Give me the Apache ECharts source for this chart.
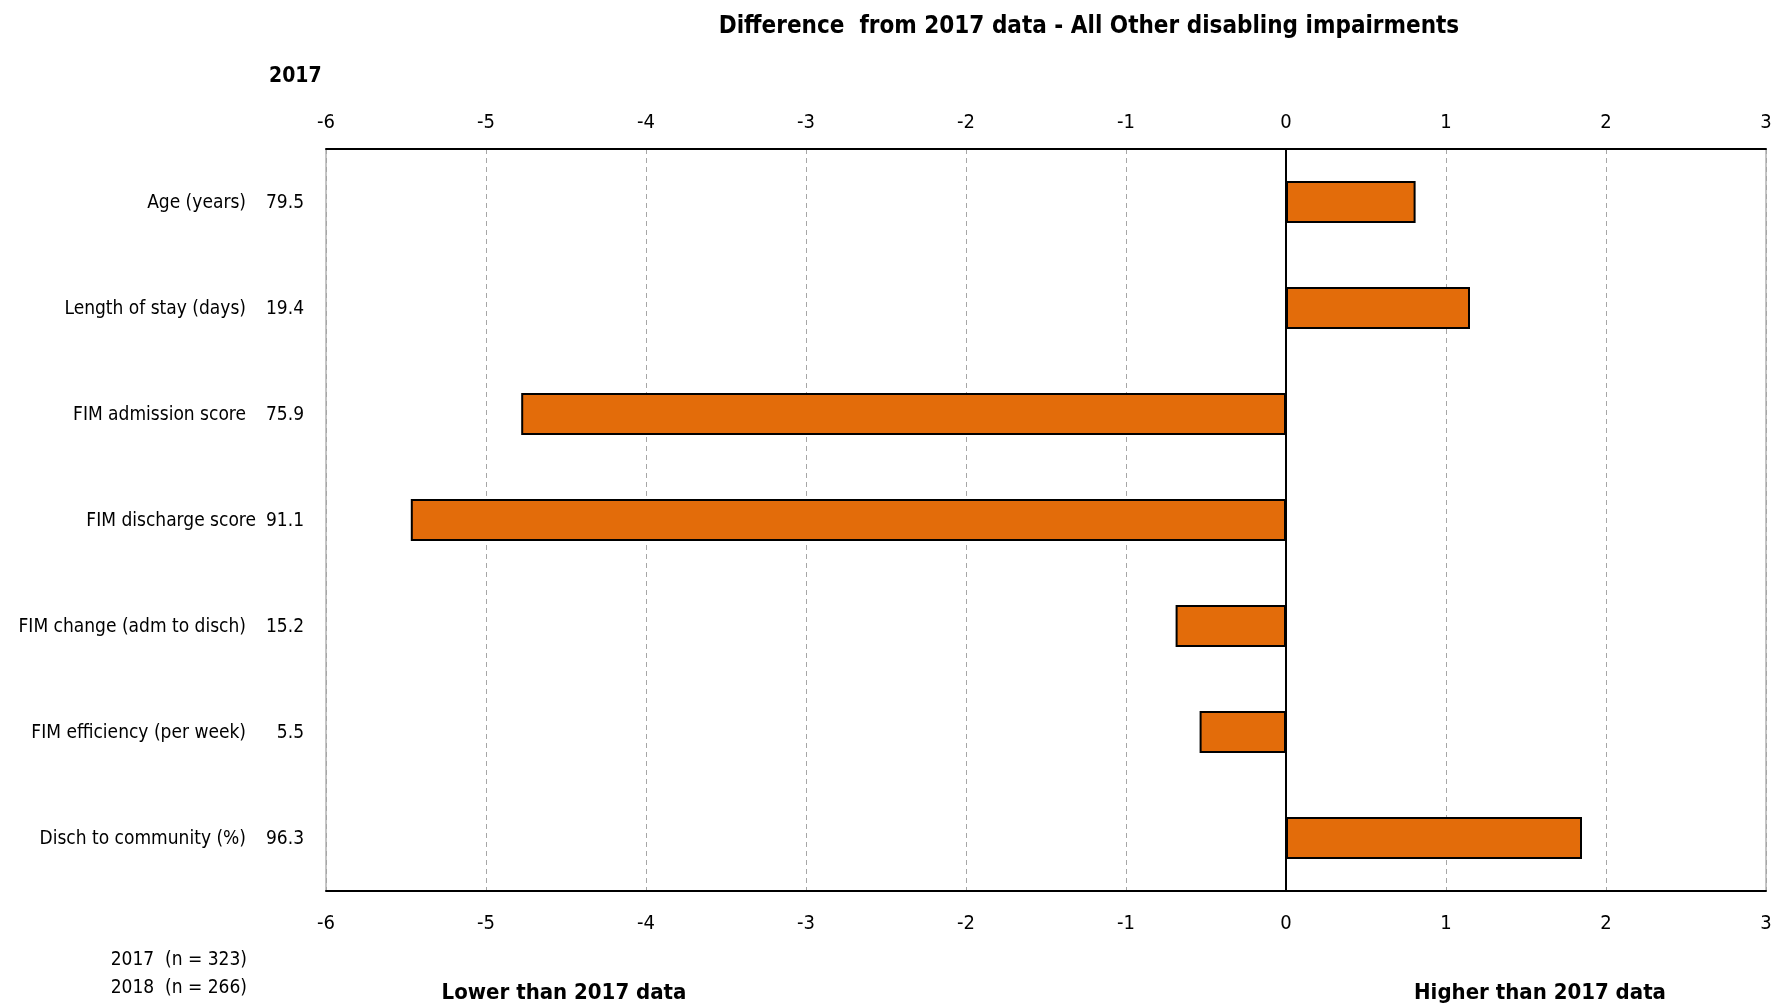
<!DOCTYPE html>
<html>
<head>
<meta charset="utf-8">
<script src="https://cdn.jsdelivr.net/npm/echarts@6/dist/echarts.min.js"></script>
<style>
html,body{margin:0;padding:0;background:#fff;}
#chart{width:1775px;height:1005px;}
</style>
</head>
<body>
<div id="chart"></div>
<script>
const categories = ['Age (years)', 'Length of stay (days)', 'FIM admission score', 'FIM discharge score', 'FIM change (adm to disch)', 'FIM efficiency (per week)', 'Disch to community (%)'];
const values2017 = ['79.5', '19.4', '75.9', '91.1', '15.2', '5.5', '96.3'];
const differences = [0.81, 1.15, -4.78, -5.47, -0.69, -0.54, 1.85];
const xMin = -6, xMax = 3, xStep = 1;
const titleText = 'Difference  from 2017 data - All Other disabling impairments';
const yearLabel = '2017';
const sampleLines = ['2017  (n = 323)', '2018  (n = 266)'];
const lowerText = 'Lower than 2017 data';
const higherText = 'Higher than 2017 data';

const FONT = '"Liberation Sans Narrow", "DejaVu Sans Condensed", "Liberation Sans", sans-serif';
const chart = echarts.init(document.getElementById('chart'), null, {renderer: 'canvas'});

const xAxisBase = {
  type: 'value', min: xMin, max: xMax, interval: xStep,
  axisLine: {show: true, onZero: false, lineStyle: {color: '#000', width: 2}},
  axisTick: {show: false}
};

chart.setOption({
  animation: false,
  backgroundColor: '#fff',
  title: {
    text: titleText, left: 1084, top: 10, textAlign: 'center',
    textStyle: {fontFamily: FONT, fontWeight: 'bold', fontSize: 24, color: '#000'}
  },
  grid: {left: 326, right: 9, top: 149, bottom: 114, show: true, borderColor: '#8c8c8c', borderWidth: 1, containLabel: false},
  xAxis: [
    Object.assign({}, xAxisBase, {
      position: 'bottom',
      splitLine: {show: true, lineStyle: {color: '#a6a6a6', type: [5, 4], width: 1}},
      axisLabel: {color: '#000', fontFamily: FONT, fontSize: 20, margin: 23}
    }),
    Object.assign({}, xAxisBase, {
      position: 'top', splitLine: {show: false},
      axisLabel: {color: '#000', fontFamily: FONT, fontSize: 20, margin: 16}
    })
  ],
  yAxis: {
    type: 'category', data: categories, inverse: true,
    axisLine: {show: false}, axisTick: {show: false}, splitLine: {show: false},
    axisLabel: {
      margin: 22,
      formatter: function (name, idx) {
        const vs = name === 'FIM discharge score' ? 'w' : 'v';
        return '{n|' + name + '}{' + vs + '|' + values2017[idx] + '}';
      },
      rich: {
        n: {fontFamily: FONT, fontSize: 19, color: '#000', align: 'right', padding: [3, 0, 0, 0]},
        v: {fontFamily: FONT, fontSize: 19, color: '#000', width: 58, align: 'right', padding: [3, 0, 0, 0]},
        w: {fontFamily: FONT, fontSize: 19, color: '#000', width: 48, align: 'right', padding: [3, 0, 0, 0]}
      }
    }
  },
  series: [{
    type: 'bar', xAxisIndex: 0, data: differences, barWidth: 42,
    itemStyle: {color: '#E36C0A', borderColor: '#000', borderWidth: 2},
    markLine: {
      silent: true, symbol: 'none', label: {show: false},
      lineStyle: {color: '#000', type: 'solid', width: 2},
      data: [{xAxis: 0}]
    },
    z: 3
  }],
  graphic: [
    {type: 'text', left: 269, top: 66, style: {text: yearLabel, fontFamily: FONT, fontWeight: 'bold', fontSize: 21, fill: '#000'}},
    {type: 'text', right: 1775 - 247, top: 946, style: {text: sampleLines.join('\n'), fontFamily: FONT, fontSize: 19, fill: '#000', lineHeight: 28, align: 'left'}},
    {type: 'text', x: 564, y: 993, style: {text: lowerText, fontFamily: FONT, fontWeight: 'bold', fontSize: 22, fill: '#000', align: 'center', verticalAlign: 'middle'}},
    {type: 'text', x: 1540, y: 993, style: {text: higherText, fontFamily: FONT, fontWeight: 'bold', fontSize: 22, fill: '#000', align: 'center', verticalAlign: 'middle'}}
  ]
});
</script>
</body>
</html>
